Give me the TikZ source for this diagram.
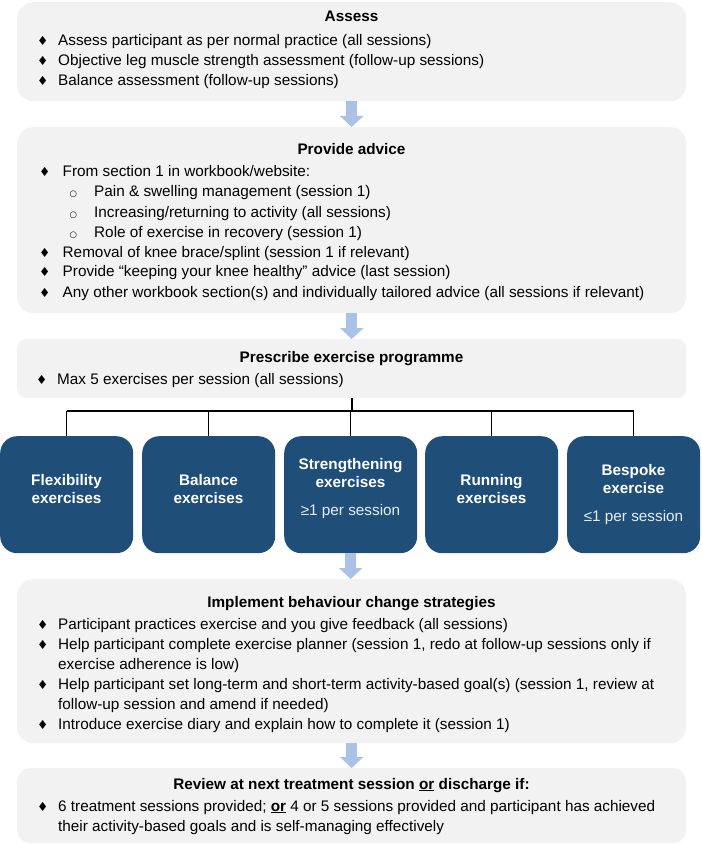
\documentclass[tikz,border=0pt]{standalone}
\usepackage{fontspec}
\setmainfont{Liberation Sans}
\newfontfamily\symfont{DejaVu Sans}
\usetikzlibrary{arrows.meta}
\definecolor{boxgray}{HTML}{F2F2F2}
\definecolor{darkblue}{HTML}{1F4E79}
\definecolor{arrowblue}{HTML}{A9C2E6}
\definecolor{softwhite}{HTML}{E8ECF2}
\newcommand\dia{{\symfont\fontsize{12.5}{10}\selectfont ♦}}
\newcommand\ring{{\symfont\fontsize{8.5}{8}\selectfont ○}}
\newcommand\bitem[1]{\par\noindent\hangindent=20.5pt\hangafter=1\makebox[20.5pt][l]{\hspace*{-0.5pt}\dia}#1}
\newcommand\bitemw[1]{\par\noindent\hangindent=23pt\hangafter=1\makebox[23pt][l]{\hspace*{-0.5pt}\dia}#1}
\newcommand\sitem[1]{\par\noindent\hangindent=54.5pt\hangafter=1\makebox[54.5pt][l]{\hspace*{30pt}\ring}#1}
\newcommand\bodyset{\fontsize{15.3}{20}\selectfont\raggedright}
\begin{document}
\begin{tikzpicture}[x=1pt,y=-1pt,
  lbox/.style={fill=boxgray, rounded corners=16pt, minimum width=669pt, inner sep=0pt, anchor=north west},
  dbox/.style={fill=darkblue, rounded corners=17pt, minimum width=133pt, minimum height=117pt, inner sep=0pt, anchor=north west},
  ttl/.style={font=\fontsize{15.3}{18}\selectfont\bfseries, inner sep=0pt, anchor=base},
  bdy/.style={inner sep=0pt, anchor=base west},
  dtxt/.style={font=\fontsize{15.3}{18}\selectfont\bfseries, text=white, inner sep=0pt, anchor=base},
  dsub/.style={font=\fontsize{15.3}{18}\selectfont, text=softwhite, inner sep=0pt, anchor=base},
  flow/.style={draw=arrowblue, line width=11pt, -{Triangle[width=23pt,length=11pt]}},
  link/.style={draw=black, line width=1.3pt}
]
\useasboundingbox (0,0) rectangle (701,845);

% Assess
\node[lbox, minimum height=99pt] (assess) at (17,2) {};
\node[ttl] (assessT) at (351.5,22) {Assess};
\node[bdy] (assessB) at (37.5,46) {\parbox[t]{640pt}{\bodyset
\bitem{Assess participant as per normal practice (all sessions)}
\bitem{Objective leg muscle strength assessment (follow-up sessions)}
\bitem{Balance assessment (follow-up sessions)}}};

% Provide advice
\node[lbox, minimum height=186pt] (advice) at (17,127) {};
\node[ttl] (adviceT) at (351.5,155) {Provide advice};
\node[bdy] (adviceB) at (39.5,177) {\parbox[t]{640pt}{\bodyset
\bitemw{From section 1 in workbook/website:}
\sitem{Pain \& swelling management (session 1)}
\sitem{Increasing/returning to activity (all sessions)}
\sitem{Role of exercise in recovery (session 1)}
\bitemw{Removal of knee brace/splint (session 1 if relevant)}
\bitemw{Provide “keeping your knee healthy” advice (last session)}
\bitemw{Any other workbook section(s) and individually tailored advice (all sessions if relevant)}}};

% Prescribe
\node[lbox, rounded corners=9pt, minimum height=59pt] (prescribe) at (17,339) {};
\node[ttl] (prescribeT) at (351.5,362) {Prescribe exercise programme};
\node[bdy] (prescribeB) at (36.5,384) {\parbox[t]{640pt}{\bodyset
\bitem{Max 5 exercises per session (all sessions)}}};

% Exercise boxes
\node[dbox] (flex) at (0,436) {};
\node[dbox] (bal) at (142,436) {};
\node[dbox] (str) at (284,436) {};
\node[dbox] (run) at (425,436) {};
\node[dbox] (besp) at (567,436) {};

\node[dtxt] (flexA) at (66.5,485) {Flexibility};
\node[dtxt] (flexB) at (66.5,503) {exercises};
\node[dtxt] (balA) at (208.5,485) {Balance};
\node[dtxt] (balB) at (208.5,503) {exercises};
\node[dtxt] (strA) at (350.5,469) {Strengthening};
\node[dtxt] (strB) at (350.5,487) {exercises};
\node[dsub] (strC) at (350.5,515) {≥1 per session};
\node[dtxt] (runA) at (491.5,485) {Running};
\node[dtxt] (runB) at (491.5,503) {exercises};
\node[dtxt] (bespA) at (633.5,475) {Bespoke};
\node[dtxt] (bespB) at (633.5,493) {exercise};
\node[dsub] (bespC) at (633.5,521) {≤1 per session};

% Connectors from prescribe to exercise boxes
\coordinate (bus) at (352,411);
\draw[link] (prescribe.south -| bus) -- (bus);
\draw[link] (flex.north |- bus) -- (besp.north |- bus);
\foreach \b in {flex,bal,str,run,besp} {
  \draw[link] (\b.north |- bus) -- (\b.north);
}

% Behaviour change
\node[lbox, minimum height=164pt] (behav) at (17,579) {};
\node[ttl] (behavT) at (351.5,607) {Implement behaviour change strategies};
\node[bdy] (behavB) at (37.5,629) {\parbox[t]{640pt}{\bodyset
\bitem{Participant practices exercise and you give feedback (all sessions)}
\bitem{Help participant complete exercise planner (session 1, redo at follow-up sessions only if\newline exercise adherence is low)}
\bitem{Help participant set long-term and short-term activity-based goal(s) (session 1, review at\newline follow-up session and amend if needed)}
\bitem{Introduce exercise diary and explain how to complete it (session 1)}}};

% Review
\node[lbox, rounded corners=13pt, minimum height=75pt] (review) at (17,768) {};
\node[ttl] (reviewT) at (351.5,789) {Review at next treatment session \underline{or} discharge if:};
\node[bdy] (reviewB) at (37.5,811) {\parbox[t]{640pt}{\bodyset
\bitem{6 treatment sessions provided; \textbf{\underline{or}} 4 or 5 sessions provided and participant has achieved\newline their activity-based goals and is self-managing effectively}}};

% Flow arrows
\draw[flow] (assess.south) -- (advice.north);
\draw[flow] (advice.south) -- (prescribe.north);
\draw[flow] (str.south) -- (behav.north -| str.south);
\draw[flow] (behav.south) -- (review.north);
\end{tikzpicture}
\end{document}
